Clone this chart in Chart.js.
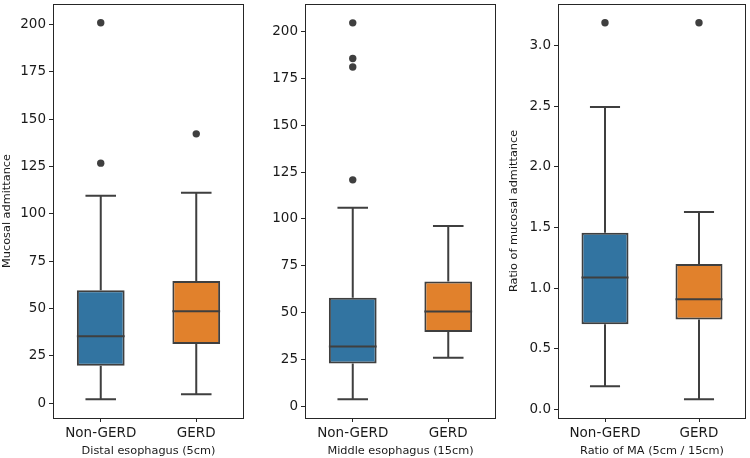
<!DOCTYPE html>
<html>
<head>
<meta charset="utf-8">
<script src="https://cdn.jsdelivr.net/npm/chart.js@4"></script>
<style>
  html, body { margin: 0; padding: 0; background: #fff; }
  #wrap { position: relative; width: 750px; height: 458px; }
  .panel { position: absolute; top: 0; width: 250px; height: 458px; }
</style>
</head>
<body>
<div id="wrap">
  <div class="panel" style="left:0"><canvas id="distal"></canvas></div>
  <div class="panel" style="left:250px"><canvas id="middle"></canvas></div>
  <div class="panel" style="left:500px"><canvas id="ratio"></canvas></div>
</div>
<script>
const groups = ['Non-GERD', 'GERD'];

// [lower whisker, Q1, median, Q3, upper whisker]
const distalStats = [[2.1, 19.8, 35.4, 59.6, 109.6], [4.7, 31.2, 48.6, 64.6, 111.2]];
const distalOutliers = [[201, 126.8], [142.3]];
const middleStats = [[3.7, 22.7, 31.8, 57.9, 106], [25.9, 39.6, 50.6, 66.6, 96.2]];
const middleOutliers = [[204.8, 185.7, 181.2, 120.9], []];
const ratioStats = [[0.19, 0.70, 1.086, 1.456, 2.494], [0.082, 0.74, 0.907, 1.198, 1.628]];
const ratioOutliers = [[3.19], [3.19]];

const countTicks = [0, 25, 50, 75, 100, 125, 150, 175, 200];
const ratioTicks = [0, 0.5, 1.0, 1.5, 2.0, 2.5, 3.0];

const BOX_COLORS = ['#3274a1', '#e1812c'];
const EDGE = '#3f3f3f';
const TEXT = '#1a1a1a';
const FONT = 'DejaVu Sans';

function boxPlugin(stats) {
  return {
    id: 'boxParts',
    beforeDatasetsDraw(chart) {
      const { ctx, scales: { x, y } } = chart;
      const unit = x.getPixelForValue(1) - x.getPixelForValue(0);
      ctx.save();
      ctx.strokeStyle = EDGE;
      ctx.lineWidth = 2;
      stats.forEach((s, i) => {
        const cx = x.getPixelForValue(i);
        const half = unit * 0.16;
        const lo = y.getPixelForValue(s[0]), q1 = y.getPixelForValue(s[1]);
        const q3 = y.getPixelForValue(s[3]), hi = y.getPixelForValue(s[4]);
        ctx.beginPath();
        ctx.moveTo(cx, q1); ctx.lineTo(cx, lo);
        ctx.moveTo(cx - half, lo); ctx.lineTo(cx + half, lo);
        ctx.moveTo(cx, q3); ctx.lineTo(cx, hi);
        ctx.moveTo(cx - half, hi); ctx.lineTo(cx + half, hi);
        ctx.stroke();
      });
      ctx.restore();
    },
    afterDatasetsDraw(chart) {
      const { ctx, scales: { x, y } } = chart;
      const unit = x.getPixelForValue(1) - x.getPixelForValue(0);
      ctx.save();
      ctx.strokeStyle = EDGE;
      ctx.lineWidth = 2;
      stats.forEach((s, i) => {
        const cx = x.getPixelForValue(i);
        const half = unit * 0.25;
        const m = y.getPixelForValue(s[2]);
        ctx.beginPath();
        ctx.moveTo(cx - half, m); ctx.lineTo(cx + half, m);
        ctx.stroke();
      });
      ctx.restore();
    },
    afterDraw(chart) {
      const { ctx, chartArea: a } = chart;
      ctx.save();
      ctx.strokeStyle = '#262626';
      ctx.lineWidth = 1;
      ctx.strokeRect(Math.round(a.left) + 0.5, Math.round(a.top) + 0.5,
        Math.round(a.right - a.left) - 1, Math.round(a.bottom - a.top));
      ctx.restore();
    }
  };
}

function makePanel(id, stats, outliers, opts) {
  const outlierPoints = [];
  outliers.forEach((vals, i) => vals.forEach(v => outlierPoints.push({ x: groups[i], y: v })));

  new Chart(document.getElementById(id), {
    type: 'bar',
    data: {
      labels: groups,
      datasets: [
        {
          data: stats.map(s => [s[1], s[3]]),
          backgroundColor: BOX_COLORS,
          borderColor: EDGE,
          borderWidth: 2,
          borderSkipped: false,
          barPercentage: 0.5,
          categoryPercentage: 1
        },
        {
          type: 'line',
          data: outlierPoints,
          showLine: false,
          pointRadius: 3.7,
          pointBackgroundColor: EDGE,
          pointBorderWidth: 0
        }
      ]
    },
    options: {
      responsive: true,
      maintainAspectRatio: false,
      animation: false,
      layout: { padding: { top: 2, right: opts.padRight, left: 0, bottom: 0 } },
      plugins: { legend: { display: false }, tooltip: { enabled: false } },
      scales: {
        x: {
          offset: true,
          grid: { display: true, offset: false, drawOnChartArea: false, drawTicks: true, tickLength: 4, color: '#262626' },
          border: { display: false },
          ticks: { color: TEXT, font: { family: FONT, size: 13.5 }, padding: 3, maxRotation: 0 },
          title: { display: true, text: opts.xTitle, color: TEXT, font: { family: FONT, size: 11.3 },
                   padding: { top: 0, bottom: 0 } },
          afterFit: s => { s.height = 40; s.paddingLeft = 0; s.paddingRight = 0; }
        },
        y: {
          min: opts.min,
          max: opts.max,
          grid: { display: true, drawOnChartArea: false, drawTicks: true, tickLength: 4, color: '#262626' },
          border: { display: false },
          afterBuildTicks: s => { s.ticks = opts.ticks.map(v => ({ value: v })); },
          ticks: { color: TEXT, font: { family: FONT, size: 13.5 }, padding: 3, callback: opts.fmt },
          title: { display: !!opts.yTitle, text: opts.yTitle || '', color: TEXT,
                   font: { family: FONT, size: 11.3 }, padding: { top: opts.titlePad, bottom: 0 } },
          afterFit: s => { s.width = opts.yWidth; s.paddingTop = 0; s.paddingBottom = 0; }
        }
      }
    },
    plugins: [boxPlugin(stats)]
  });
}

makePanel('distal', distalStats, distalOutliers, {
  xTitle: 'Distal esophagus (5cm)', yTitle: 'Mucosal admittance',
  min: -7.85, max: 210.9, ticks: countTicks, fmt: v => String(v),
  yWidth: 53, padRight: 6, titlePad: 0.7
});
makePanel('middle', middleStats, middleOutliers, {
  xTitle: 'Middle esophagus (15cm)', yTitle: '',
  min: -6.36, max: 214.86, ticks: countTicks, fmt: v => String(v),
  yWidth: 55, padRight: 4, titlePad: 0
});
makePanel('ratio', ratioStats, ratioOutliers, {
  xTitle: 'Ratio of MA (5cm / 15cm)', yTitle: 'Ratio of mucosal admittance',
  min: -0.073, max: 3.345, ticks: ratioTicks, fmt: v => v.toFixed(1),
  yWidth: 58, padRight: 2, titlePad: 7.7
});
</script>
</body>
</html>
